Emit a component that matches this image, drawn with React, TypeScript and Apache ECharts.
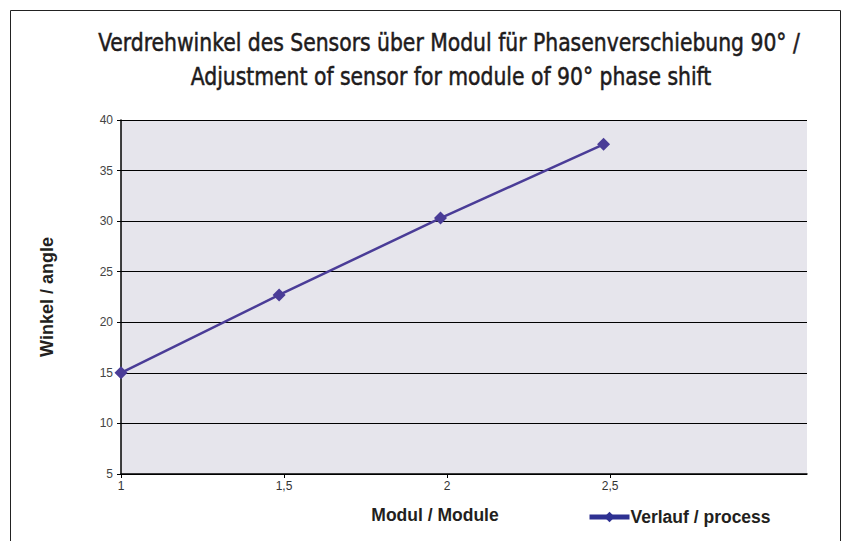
import React, { useEffect, useRef } from "react";
import * as echarts from "echarts";

const titleLines = [
  "Verdrehwinkel des Sensors über Modul für Phasenverschiebung 90° /",
  "Adjustment of sensor for module of 90° phase shift",
];
const moduleValues = [1, 1.485, 1.98, 2.48];
const angleValues = [15, 22.7, 30.3, 37.6];
const xTickValues = [1, 1.5, 2, 2.5];
const seriesName = "Verlauf / process";
const xAxisName = "Modul / Module";
const yAxisName = "Winkel / angle";

export default function App() {
  const ref = useRef<HTMLDivElement>(null);
  useEffect(() => {
    if (!ref.current) return;
    const chart = echarts.init(ref.current, null, { renderer: "svg" });
    const condensed = "'Liberation Sans Narrow', 'DejaVu Sans Condensed', Arial, sans-serif";
    const sans = "'Liberation Sans', Arial, Helvetica, sans-serif";
    const titleStyle = {
      fontFamily: condensed,
      fontSize: 25,
      fontWeight: "normal",
      fill: "#1e1b1c",
      stroke: "#1e1b1c",
      lineWidth: 0.5,
      textAlign: "center",
      textVerticalAlign: "middle",
    };
    chart.setOption({
      animation: false,
      backgroundColor: "#ffffff",
      graphic: [
        {
          type: "rect",
          shape: { x: 10.5, y: 10.5, width: 830, height: 540 },
          style: { fill: "none", stroke: "#222", lineWidth: 1 },
          silent: true,
          z: 100,
        },
        {
          type: "text",
          x: 449,
          y: 43,
          scaleX: 0.905,
          style: { ...titleStyle, text: titleLines[0] },
        },
        {
          type: "text",
          x: 451,
          y: 77,
          scaleX: 0.905,
          style: { ...titleStyle, text: titleLines[1] },
        },
      ],
      legend: {
        data: [
          {
            name: seriesName,
            itemStyle: { color: "#2e3192" },
            lineStyle: { color: "#2e3192", width: 5 },
          },
        ],
        left: 582,
        top: 503,
        itemWidth: 40,
        itemHeight: 13,
        itemGap: 4,
        textStyle: {
          fontFamily: sans,
          fontSize: 17.5,
          fontWeight: "bold",
          color: "#231f20",
          padding: [0, 0, 0, -4],
        },
      },
      grid: {
        left: 121,
        top: 120,
        right: 35,
        bottom: 67,
        show: true,
        backgroundColor: "#e6e5ec",
        borderWidth: 0,
      },
      xAxis: {
        type: "value",
        min: 1,
        max: 3.104,
        interval: 0.5,
        name: xAxisName,
        nameLocation: "middle",
        nameGap: 32,
        nameTextStyle: {
          fontFamily: sans,
          fontSize: 17.5,
          fontWeight: "bold",
          color: "#231f20",
          padding: [0, 58, 0, 0],
        },
        axisLine: { show: true, lineStyle: { color: "#000", width: 1.5 } },
        axisTick: {
          show: true,
          length: 4,
          customValues: xTickValues,
          lineStyle: { color: "#000" },
        },
        axisLabel: {
          customValues: xTickValues,
          fontFamily: sans,
          fontSize: 12,
          color: "#333",
          margin: 6,
          formatter: (v: number) => String(v).replace(".", ","),
        },
        splitLine: { show: false },
      },
      yAxis: {
        type: "value",
        min: 5,
        max: 40,
        interval: 5,
        name: yAxisName,
        nameLocation: "middle",
        nameGap: 65,
        nameRotate: 90,
        nameTextStyle: {
          fontFamily: sans,
          fontSize: 18,
          fontWeight: "bold",
          color: "#231f20",
        },
        axisLine: { show: true, lineStyle: { color: "#000", width: 1.5 } },
        axisTick: { show: true, length: 4, lineStyle: { color: "#000" } },
        axisLabel: {
          fontFamily: sans,
          fontSize: 12,
          color: "#444",
          margin: 8,
        },
        splitLine: { show: true, lineStyle: { color: "#000", width: 1.2 } },
      },
      series: [
        {
          name: seriesName,
          type: "line",
          data: moduleValues.map((x, i) => [x, angleValues[i]]),
          symbol: "diamond",
          symbolSize: 13,
          showAllSymbol: true,
          lineStyle: { color: "#4a3c97", width: 2.5 },
          itemStyle: { color: "#4a3c97" },
          clip: false,
          z: 10,
        },
      ],
    });
    return () => chart.dispose();
  }, []);
  return (
    <div
      ref={ref}
      style={{ position: "fixed", left: 0, top: 0, width: 842, height: 541 }}
    />
  );
}
